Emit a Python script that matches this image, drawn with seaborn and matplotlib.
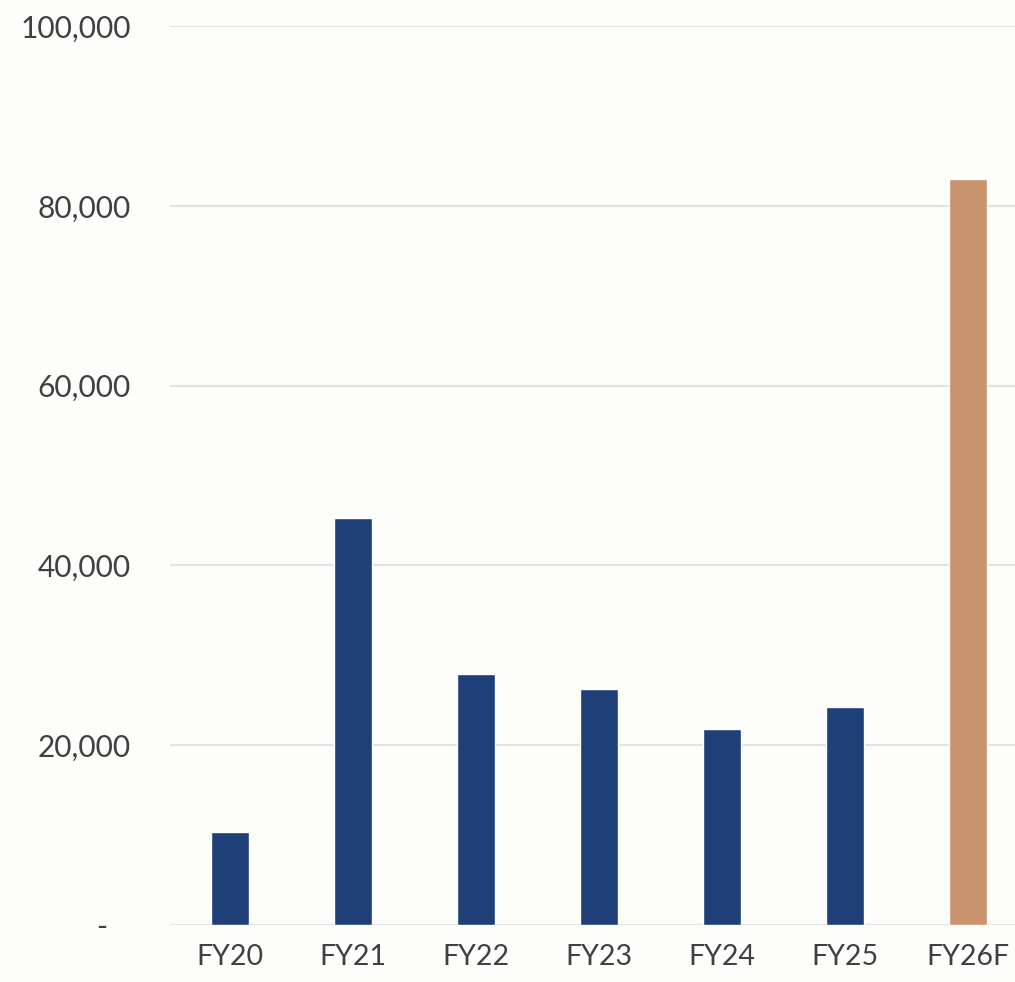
import matplotlib
matplotlib.use("Agg")
import matplotlib.pyplot as plt
import matplotlib.ticker as mticker
import seaborn as sns
import pandas as pd

years = ["FY20", "FY21", "FY22", "FY23", "FY24", "FY25", "FY26F"]
values = [10300, 45300, 27900, 26200, 21800, 24200, 83000]
bar_colors = ["#1E3F77"] * 6 + ["#C8936D"]

BG = "#FDFEFB"
TEXT = "#404040"

sns.set_theme(style="white")
plt.rcParams["font.family"] = ["Lato", "DejaVu Sans"]

df = pd.DataFrame({"year": years, "value": values})

fig = plt.figure(figsize=(10.15, 9.82), dpi=100, facecolor=BG)
ax = fig.add_axes([170 / 1015, 57 / 982, 845 / 1015, 899 / 982])
ax.set_facecolor(BG)

sns.barplot(data=df, x="year", y="value", hue="year", palette=bar_colors,
            width=0.31, legend=False, ax=ax, saturation=1)

ax.set_ylim(0, 100000)
ax.set_xlim(-0.488, 6.38)
ax.set_yticks(range(0, 100001, 20000))
ax.yaxis.set_major_formatter(mticker.FuncFormatter(
    lambda v, p: "-   " if v == 0 else f"{int(v):,}"))
ax.grid(axis="y", color="#E2E2E2", linewidth=1.5)
ax.set_axisbelow(True)
for s in ax.spines.values():
    s.set_visible(False)
ax.tick_params(axis="y", length=0, pad=28, labelsize=21.5, labelcolor=TEXT)
ax.tick_params(axis="x", length=0, pad=14, labelsize=20.5, labelcolor=TEXT)
ax.set_xlabel("")
ax.set_ylabel("")

fig.savefig("out.png", dpi=100, facecolor=BG)
